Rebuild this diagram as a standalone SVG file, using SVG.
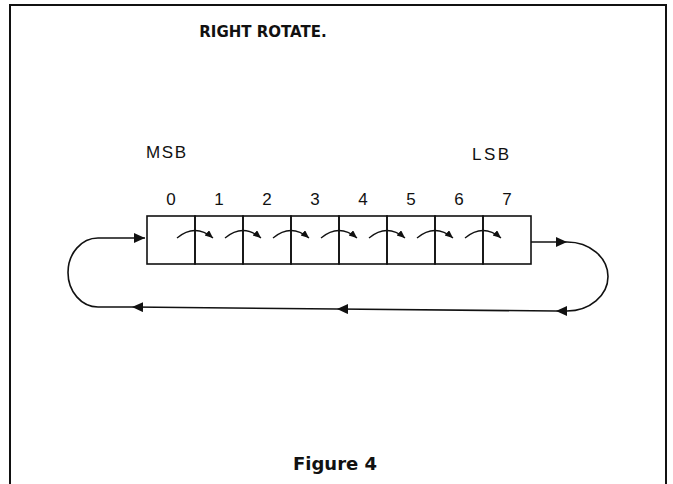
<svg xmlns="http://www.w3.org/2000/svg" width="673" height="484" viewBox="0 0 673 484">
<defs>
<style>
.cell{fill:none;stroke:#111;stroke-width:1.6}
.frame{fill:none;stroke:#111;stroke-width:2}
.conn{fill:none;stroke:#111;stroke-width:1.6}
.shift{fill:none;stroke:#111;stroke-width:1.3}
.lbl{font-family:"Liberation Sans",Arial,sans-serif;font-size:17px;fill:#111}
.dig{font-family:"Liberation Sans",Arial,sans-serif;font-size:17px;fill:#111;text-anchor:middle}
.ttl{font-family:"DejaVu Sans",sans-serif;font-weight:bold;fill:#111;text-anchor:middle}
</style>
<marker id="big" markerUnits="userSpaceOnUse" markerWidth="12" markerHeight="11" refX="11" refY="5" orient="auto">
<path d="M0,0 L11,5 L0,10 z" fill="#111"/>
</marker>
<marker id="small" markerUnits="userSpaceOnUse" markerWidth="9" markerHeight="8" refX="8" refY="3.5" orient="auto">
<path d="M0,0 L8,3.5 L0,7 z" fill="#111"/>
</marker>
</defs>
<rect width="673" height="484" fill="#fff"/>
<path class="frame" d="M10,490 V5 H666 V490"/>
<text class="ttl" x="263" y="37" font-size="15">RIGHT ROTATE.</text>
<text class="lbl" x="146" y="158" textLength="40">MSB</text>
<text class="lbl" x="472" y="160" textLength="37">LSB</text>
<g id="cell0"><rect class="cell" x="147" y="216" width="48" height="48"/><text class="dig" x="171" y="205">0</text></g>
<g id="cell1"><rect class="cell" x="195" y="216" width="48" height="48"/><text class="dig" x="219" y="205">1</text></g>
<g id="cell2"><rect class="cell" x="243" y="216" width="48" height="48"/><text class="dig" x="267" y="205">2</text></g>
<g id="cell3"><rect class="cell" x="291" y="216" width="48" height="48"/><text class="dig" x="315" y="205">3</text></g>
<g id="cell4"><rect class="cell" x="339" y="216" width="48" height="48"/><text class="dig" x="363" y="205">4</text></g>
<g id="cell5"><rect class="cell" x="387" y="216" width="48" height="48"/><text class="dig" x="411" y="205">5</text></g>
<g id="cell6"><rect class="cell" x="435" y="216" width="48" height="48"/><text class="dig" x="459" y="205">6</text></g>
<g id="cell7"><rect class="cell" x="483" y="216" width="48" height="48"/><text class="dig" x="507" y="205">7</text></g>
<g id="connectors">
<path class="shift" d="M177,238 Q195,223 213,238" marker-end="url(#small)"/>
<path class="shift" d="M225,238 Q243,223 261,238" marker-end="url(#small)"/>
<path class="shift" d="M273,238 Q291,223 309,238" marker-end="url(#small)"/>
<path class="shift" d="M321,238 Q339,223 357,238" marker-end="url(#small)"/>
<path class="shift" d="M369,238 Q387,223 405,238" marker-end="url(#small)"/>
<path class="shift" d="M417,238 Q435,223 453,238" marker-end="url(#small)"/>
<path class="shift" d="M465,238 Q483,223 501,238" marker-end="url(#small)"/>
<path class="conn" d="M531,242 H567" marker-end="url(#big)"/>
<path class="conn" d="M567,242 A41,34.5 0 0 1 567,311 L556,311" marker-end="url(#big)"/>
<path class="conn" d="M556,311 L337,309" marker-end="url(#big)"/>
<path class="conn" d="M337,309 L132,307" marker-end="url(#big)"/>
<path class="conn" d="M132,307 L98,307 A30,34.5 0 0 1 98,238 L145,238" marker-end="url(#big)"/>
</g>
<text class="ttl" x="335" y="470" font-size="18">Figure 4</text>
</svg>
